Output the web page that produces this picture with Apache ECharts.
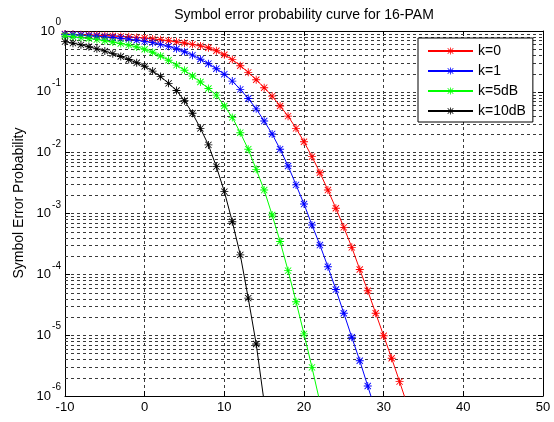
<!DOCTYPE html>
<html><head><meta charset="utf-8">
<script src="https://cdn.jsdelivr.net/npm/echarts@6/dist/echarts.min.js"></script>
<style>html,body{margin:0;padding:0;background:#fff}#c{width:554px;height:422px}</style>
</head><body><div id="c"></div>
<script>
// SNR in dB (x), one point per dB
const snrDb = [-10,-9,-8,-7,-6,-5,-4,-3,-2,-1,0,1,2,3,4,5,6,7,8,9,10,11,12,13,14,15,16,17,18,19,20,21,22,23,24,25,26,27,28,29,30,31,32,33];
// Symbol error probability
const serK0 = [0.891,0.881,0.871,0.861,0.851,0.839,0.828,0.815,0.802,0.785,0.767,0.741,0.716,0.692,0.664,0.634,0.603,0.569,0.531,0.473,0.407,0.339,0.269,0.209,0.158,0.117,0.0851,0.0585,0.0398,0.0251,0.0151,0.00859,0.00468,0.00243,0.00122,0.000592,0.000278,0.000120,5.37e-5,2.29e-5,9.77e-6,4.17e-6,1.72e-6,6.9e-7];
const serK1 = [0.881,0.867,0.851,0.836,0.818,0.800,0.780,0.759,0.735,0.706,0.676,0.643,0.604,0.560,0.511,0.457,0.401,0.344,0.290,0.240,0.195,0.150,0.110,0.0776,0.0525,0.0331,0.0203,0.0114,0.00604,0.00295,0.00143,0.000646,0.000303,0.000133,5.62e-5,2.29e-5,9.23e-6,3.80e-6,1.46e-6,5.6e-7];
const serK5dB = [0.828,0.804,0.778,0.752,0.723,0.692,0.659,0.624,0.586,0.547,0.501,0.447,0.389,0.331,0.275,0.226,0.182,0.145,0.1135,0.0881,0.0585,0.0380,0.0213,0.0114,0.00532,0.00243,0.000944,0.000347,0.000115,3.55e-5,1.05e-5,2.95e-6,7.9e-7];
const serK10dB = [0.668,0.631,0.592,0.551,0.509,0.467,0.424,0.381,0.340,0.300,0.263,0.219,0.178,0.138,0.105,0.0714,0.0444,0.0251,0.0134,0.00589,0.00229,0.000733,0.000209,4.07e-5,7.16e-6,7.9e-7];
const seriesNames = ['k=0','k=1','k=5dB','k=10dB'];
const seriesColors = ['#ff0000','#0000ff','#00ff00','#000000'];
const xTicks = [-10,0,10,20,30,40,50];
const yMin = 1e-6, yMax = 1;

const FONT = '"Liberation Sans", Arial, sans-serif';
const ASTERISK = 'path://M-0.55,-5 L0.55,-5 L0.55,5 L-0.55,5 Z M-5,-0.55 L5,-0.55 L5,0.55 L-5,0.55 Z M-3.55,-4.3 L4.3,3.55 L3.55,4.3 L-4.3,-3.55 Z M3.55,-4.3 L4.3,-3.55 L-3.55,4.3 L-4.3,3.55 Z';

function pairs(vals){ return vals.map((v,i)=>[snrDb[i], v]); }
const allSer = [serK0, serK1, serK5dB, serK10dB];

// minor log grid values (2..9 x 10^e)
const minorVals = [];
for (let e = -6; e < 0; e++) for (let k = 2; k <= 9; k++) minorVals.push([xTicks[0], +(k*Math.pow(10,e)).toPrecision(3)]);

const GRID_COLOR = '#3a3a3a';
const dash = {color: GRID_COLOR, width:1, type:[3,3]};

const chart = echarts.init(document.getElementById('c'), null, {renderer:'canvas'});
const supLabel = {
  // exponent on a first (short) line, "10" on the second line
  formatter: v => {
    const e = Math.round(Math.log10(v));
    return e === 0 ? '{s0|0}\n{b|10}{w0|}' : '{s|' + e + '}\n{b|10}{w|}';
  },
  rich: {
    s: {fontSize: 10, fontFamily: FONT, color:'#000', lineHeight: 4, width: 10, align:'right'},
    s0: {fontSize: 10, fontFamily: FONT, color:'#000', lineHeight: 4, width: 6, align:'right'},
    b: {fontSize: 13, fontFamily: FONT, color:'#000', lineHeight: 13, align:'right'},
    w: {width: 10, lineHeight: 13, align:'right'},
    w0: {width: 6, lineHeight: 13, align:'right'}
  },
  margin: 4,
  padding: [0,0,4,0]
};

chart.setOption({
  animation: false,
  backgroundColor: '#fff',
  textStyle: {fontFamily: FONT},
  graphic: [
    {type:'text', x: 304, y: 15, style:{text:'Symbol error probability curve for 16-PAM', font: '14px ' + FONT, fill:'#000', align:'center', verticalAlign:'middle'}},
    {type:'text', x: 19, y: 203, rotation: Math.PI/2, style:{text:'Symbol Error Probability', font: '14px ' + FONT, fill:'#000', align:'center', verticalAlign:'middle'}}
  ],
  legend: {
    data: seriesNames, orient:'vertical', left: 418, top: 38,
    itemWidth: 45, itemHeight: 9, itemGap: 6,
    padding: [6, 7, 4, 9],
    borderColor:'#000', borderWidth: 1, backgroundColor:'#fff',
    textStyle: {fontSize: 14, fontFamily: FONT, color:'#000', lineHeight: 14},
    z: 10
  },
  grid: {left: 65, right: 11, top: 31, bottom: 26, containLabel: false},
  xAxis: [
    {type:'value', min: xTicks[0], max: xTicks[xTicks.length-1], interval: 10, position:'bottom',
     axisLine:{onZero:false, lineStyle:{color:'#000', width:1}},
     axisTick:{inside:true, length:5, lineStyle:{color:'#000'}},
     axisLabel:{color:'#000', fontSize:13, fontFamily: FONT, margin:5},
     splitLine:{show:true, lineStyle: dash}},
    {type:'value', min: xTicks[0], max: xTicks[xTicks.length-1], interval: 10, position:'top',
     axisLine:{onZero:false, lineStyle:{color:'#000', width:1}},
     axisTick:{inside:true, length:5, lineStyle:{color:'#000'}},
     axisLabel:{show:false}, splitLine:{show:false}}
  ],
  yAxis: [
    {type:'log', logBase:10, min:yMin, max:yMax, interval:1, position:'left',
     axisLine:{onZero:false, lineStyle:{color:'#000', width:1}},
     axisTick:{inside:true, length:5, lineStyle:{color:'#000'}},
     axisLabel: supLabel,
     splitLine:{show:true, lineStyle: dash}},
    {type:'log', logBase:10, min:yMin, max:yMax, interval:1, position:'right',
     axisLine:{onZero:false, lineStyle:{color:'#000', width:1}},
     axisTick:{inside:true, length:5, lineStyle:{color:'#000'}},
     axisLabel:{show:false}, splitLine:{show:false}}
  ],
  series: [
    {name:'minor-grid', type:'custom', data: minorVals, z: 1, silent: true, clip: false,
     encode: {x: 0, y: 1},
     renderItem: function (params, api) {
       const v = api.value(1);
       const p1 = api.coord([xTicks[0], v]);
       const p2 = api.coord([xTicks[xTicks.length-1], v]);
       const y = Math.round(p1[1]) + 0.5;
       return {type:'line', silent:true, shape:{x1: p1[0], y1: y, x2: p2[0], y2: y},
               style:{stroke: GRID_COLOR, lineWidth: 1, lineDash:[3,3]}};
     }}
  ].concat(allSer.map((vals, i) => ({
    name: seriesNames[i], type:'line', data: pairs(vals), z: 3 + i,
    symbol: ASTERISK, symbolSize: 8, showSymbol: true, showAllSymbol: true,
    lineStyle: {color: seriesColors[i], width: 1},
    itemStyle: {color: seriesColors[i]},
    clip: true, emphasis: {disabled: true}
  })))
});
</script></body></html>
